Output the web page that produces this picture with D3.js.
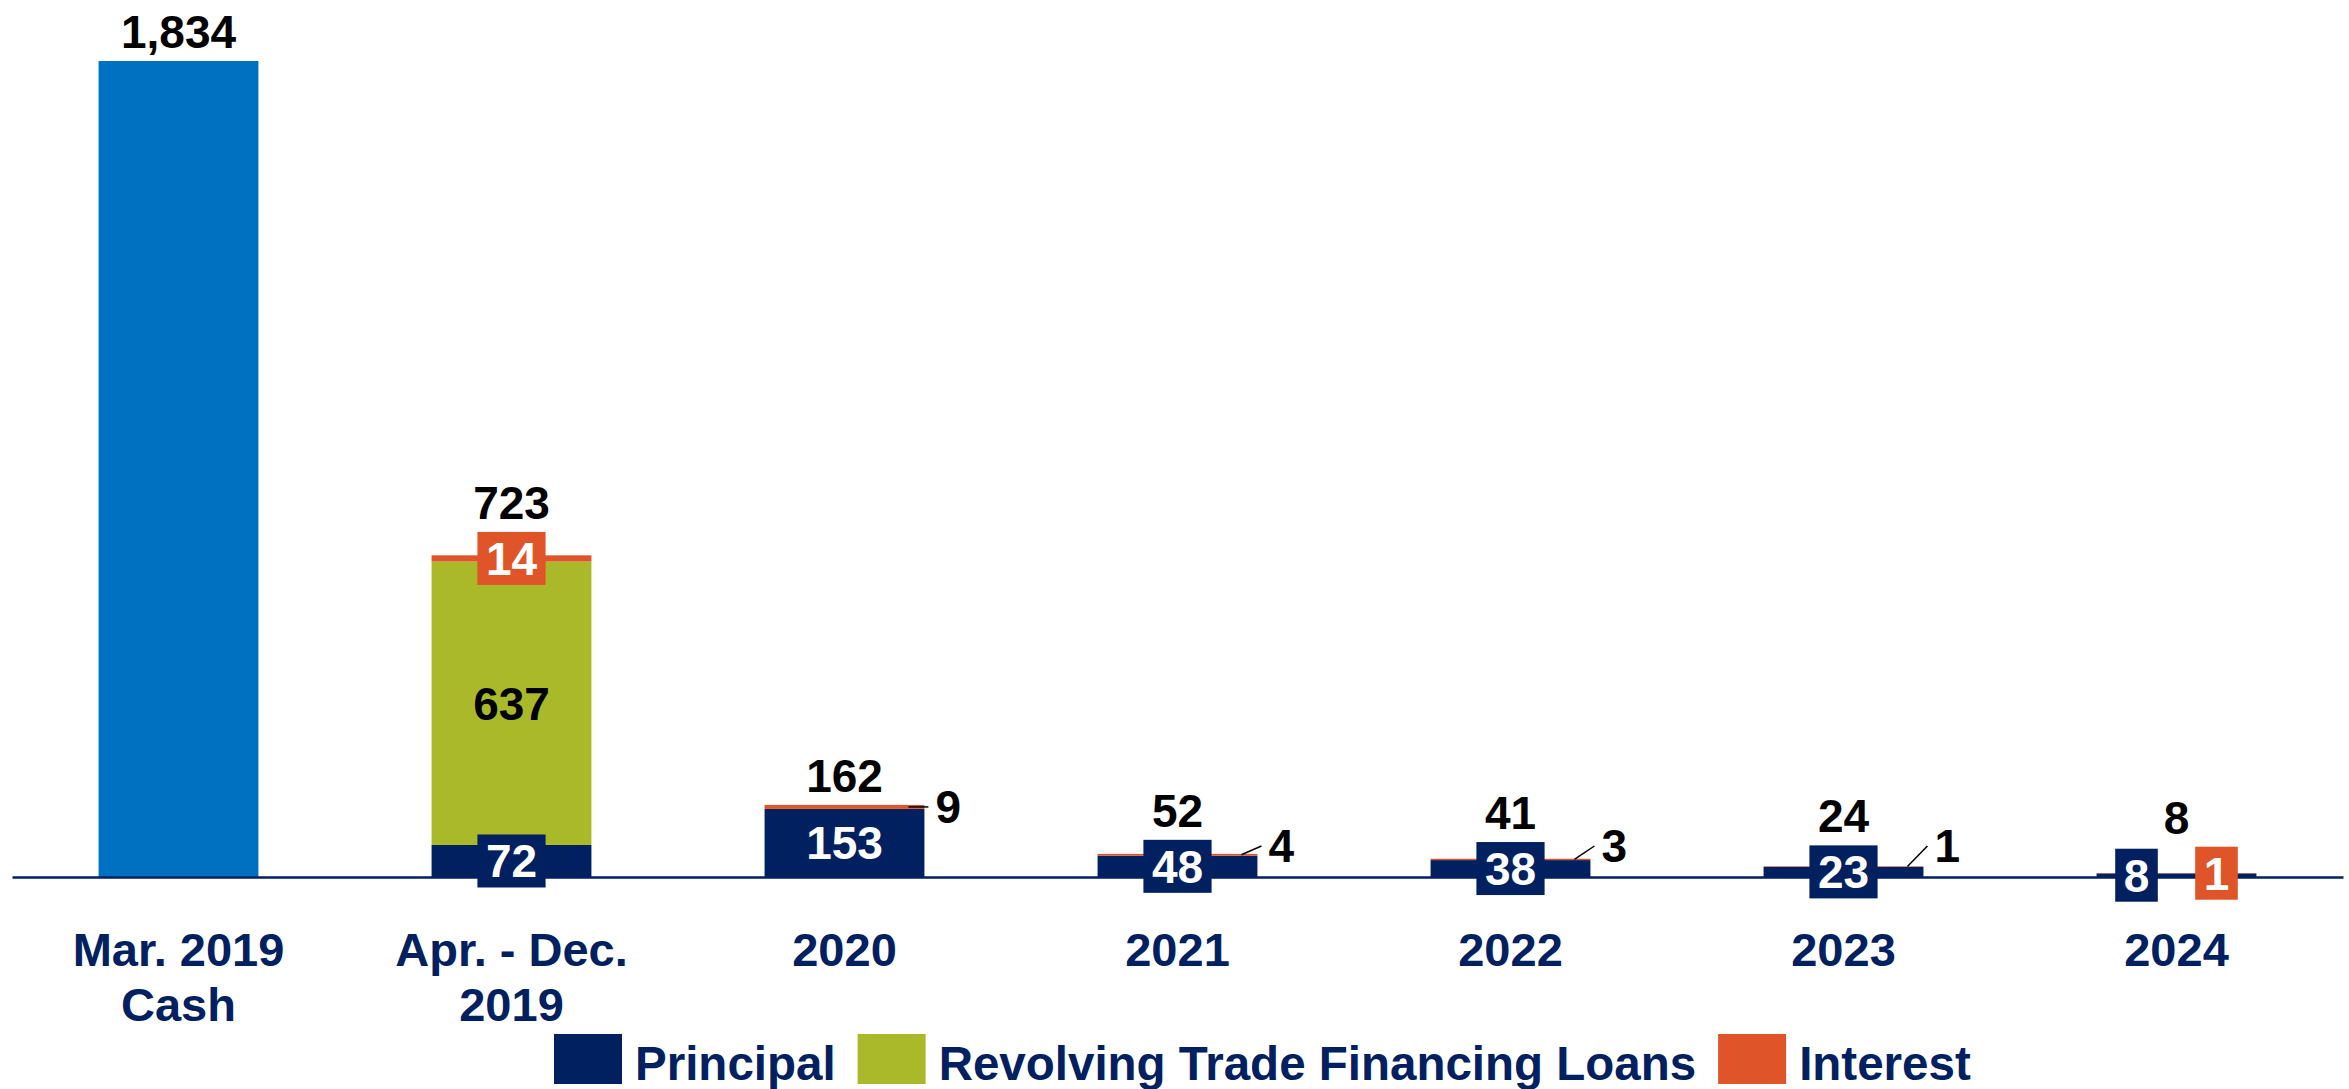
<!DOCTYPE html>
<html>
<head>
<meta charset="utf-8">
<script src="https://cdn.jsdelivr.net/npm/d3@7"></script>
<style>
  body { margin: 0; background: #fff; }
  text { font-family: "Liberation Sans", Arial, sans-serif; font-weight: bold; }
</style>
</head>
<body>
<div id="chart"></div>
<script>
// DATA
const categories = ["Mar. 2019 Cash", "Apr. - Dec. 2019", "2020", "2021", "2022", "2023", "2024"]
const tickLines = [["Mar. 2019", "Cash"], ["Apr. - Dec.", "2019"], ["2020"], ["2021"], ["2022"], ["2023"], ["2024"]]
const cash = [1834, 0, 0, 0, 0, 0, 0]
const principal = [0, 72, 153, 48, 38, 23, 8]
const revolving = [0, 637, 0, 0, 0, 0, 0]
const interest = [0, 14, 9, 4, 3, 1, 1]
const totals = [1834, 723, 162, 52, 41, 24, 8]
const legendNames = ["Principal", "Revolving Trade Financing Loans", "Interest"]

// CONSTANTS
const width = 2349
const height = 1089
const base = 877
const fontSize = 46

const colors = { cash: "#0070C0", principal: "#002060", revolving: "#A9B92A", interest: "#E0542A" }
const navy = "#002060"
// interest values shown outside the bar with a leader line
const calloutCats = ["2020", "2021", "2022", "2023"]

const svg = d3.select("#chart").append("svg").attr("width", width).attr("height", height)

// SCALES
const x = d3.scaleBand().domain(categories).range([12, 2343]).paddingInner(0.52).paddingOuter(0.26)
const y = d3.scaleLinear().domain([0, 1834]).range([base, 61])

// STACK
const rows = categories.map((c, i) => ({
    cat: c, cash: cash[i], principal: principal[i], revolving: revolving[i], interest: interest[i]
}))
const keys = ["cash", "principal", "revolving", "interest"]
const series = d3.stack().keys(keys)(rows)

const barGroup = svg.append("g")
series.forEach(s => {
    barGroup.selectAll("rect." + s.key).data(s.filter(d => d[1] > d[0])).join("rect")
        .attr("class", s.key)
        .attr("x", d => x(d.data.cat))
        .attr("width", x.bandwidth())
        .attr("y", d => y(d[1]))
        .attr("height", d => y(d[0]) - y(d[1]))
        .attr("fill", colors[s.key])
})

// AXIS
const xAxis = d3.axisBottom(x).tickSize(0).tickSizeOuter(0).tickFormat("")
const axisG = svg.append("g").attr("transform", `translate(0, ${base})`).call(xAxis)
axisG.select(".domain").attr("stroke", navy).attr("stroke-width", 2.5)
axisG.selectAll(".tick").each(function (d) {
    const i = categories.indexOf(d)
    const t = d3.select(this).append("text")
        .attr("fill", navy).attr("font-size", 47).attr("text-anchor", "middle")
    tickLines[i].forEach((line, j) => {
        t.append("tspan").attr("x", 0).attr("y", 89 + j * 55).text(line)
    })
})

// LABELS
const labelG = svg.append("g")
const measure = (txt, size) => {
    const t = labelG.append("text").attr("font-size", size).text(txt)
    const w = t.node().getComputedTextLength()
    t.remove()
    return w
}
const boxH = 53
const capHalf = fontSize * 0.358

categories.forEach((c, i) => {
    const cx = x(c) + x.bandwidth() / 2
    const right = x(c) + x.bandwidth()
    const boxes = []
    let stackTop = base
    series.forEach(s => {
        const d = s[i]
        if (d[1] <= d[0]) return
        stackTop = Math.min(stackTop, y(d[1]))
        if (s.key === "cash") return
        const v = d.data[s.key]
        const mid = (y(d[0]) + y(d[1])) / 2
        if (s.key === "interest" && calloutCats.includes(c)) {
            const ly = Math.min(mid, base - 31)
            const lx = right + 24
            labelG.append("line")
                .attr("x1", right - 16).attr("y1", mid)
                .attr("x2", lx - 20).attr("y2", ly)
                .attr("stroke", "#000").attr("stroke-width", 1.5)
            labelG.append("text").attr("x", lx).attr("y", ly + capHalf)
                .attr("text-anchor", "middle").attr("font-size", fontSize).attr("fill", "#000").text(v)
            return
        }
        const w = measure(v, fontSize) + 17
        boxes.push({ key: s.key, v, cx, cy: mid, w, fill: colors[s.key], txt: s.key === "revolving" ? "#000" : "#fff" })
    })
    // spread inside labels that would overlap
    for (let a = 0; a < boxes.length; a++) {
        for (let b = a + 1; b < boxes.length; b++) {
            if (Math.abs(boxes[a].cy - boxes[b].cy) < boxH) {
                boxes[a].cx -= 40
                boxes[b].cx += 40
            }
        }
    }
    boxes.forEach(bx => {
        labelG.append("rect")
            .attr("x", bx.cx - bx.w / 2).attr("y", bx.cy - boxH / 2)
            .attr("width", bx.w).attr("height", boxH).attr("fill", bx.fill)
        labelG.append("text").attr("x", bx.cx).attr("y", bx.cy + capHalf)
            .attr("text-anchor", "middle").attr("font-size", fontSize).attr("fill", bx.txt).text(bx.v)
    })
    const top = Math.min(stackTop, ...boxes.map(bx => bx.cy - boxH / 2))
    labelG.append("text").attr("x", cx).attr("y", top - 13)
        .attr("text-anchor", "middle").attr("font-size", fontSize).attr("fill", "#000")
        .text(d3.format(",")(totals[i]))
})

// LEGEND
const legendKeys = ["principal", "revolving", "interest"]
const legend = svg.append("g").attr("transform", "translate(554, 1034)")
let lx = 0
legendKeys.forEach((k, i) => {
    legend.append("rect").attr("x", lx).attr("y", 0).attr("width", 68).attr("height", 50).attr("fill", colors[k])
    const t = legend.append("text").attr("x", lx + 81).attr("y", 46)
        .attr("font-size", 47.5).attr("fill", navy).text(legendNames[i])
    lx += 81 + t.node().getComputedTextLength() + 22
})
</script>
</body>
</html>
